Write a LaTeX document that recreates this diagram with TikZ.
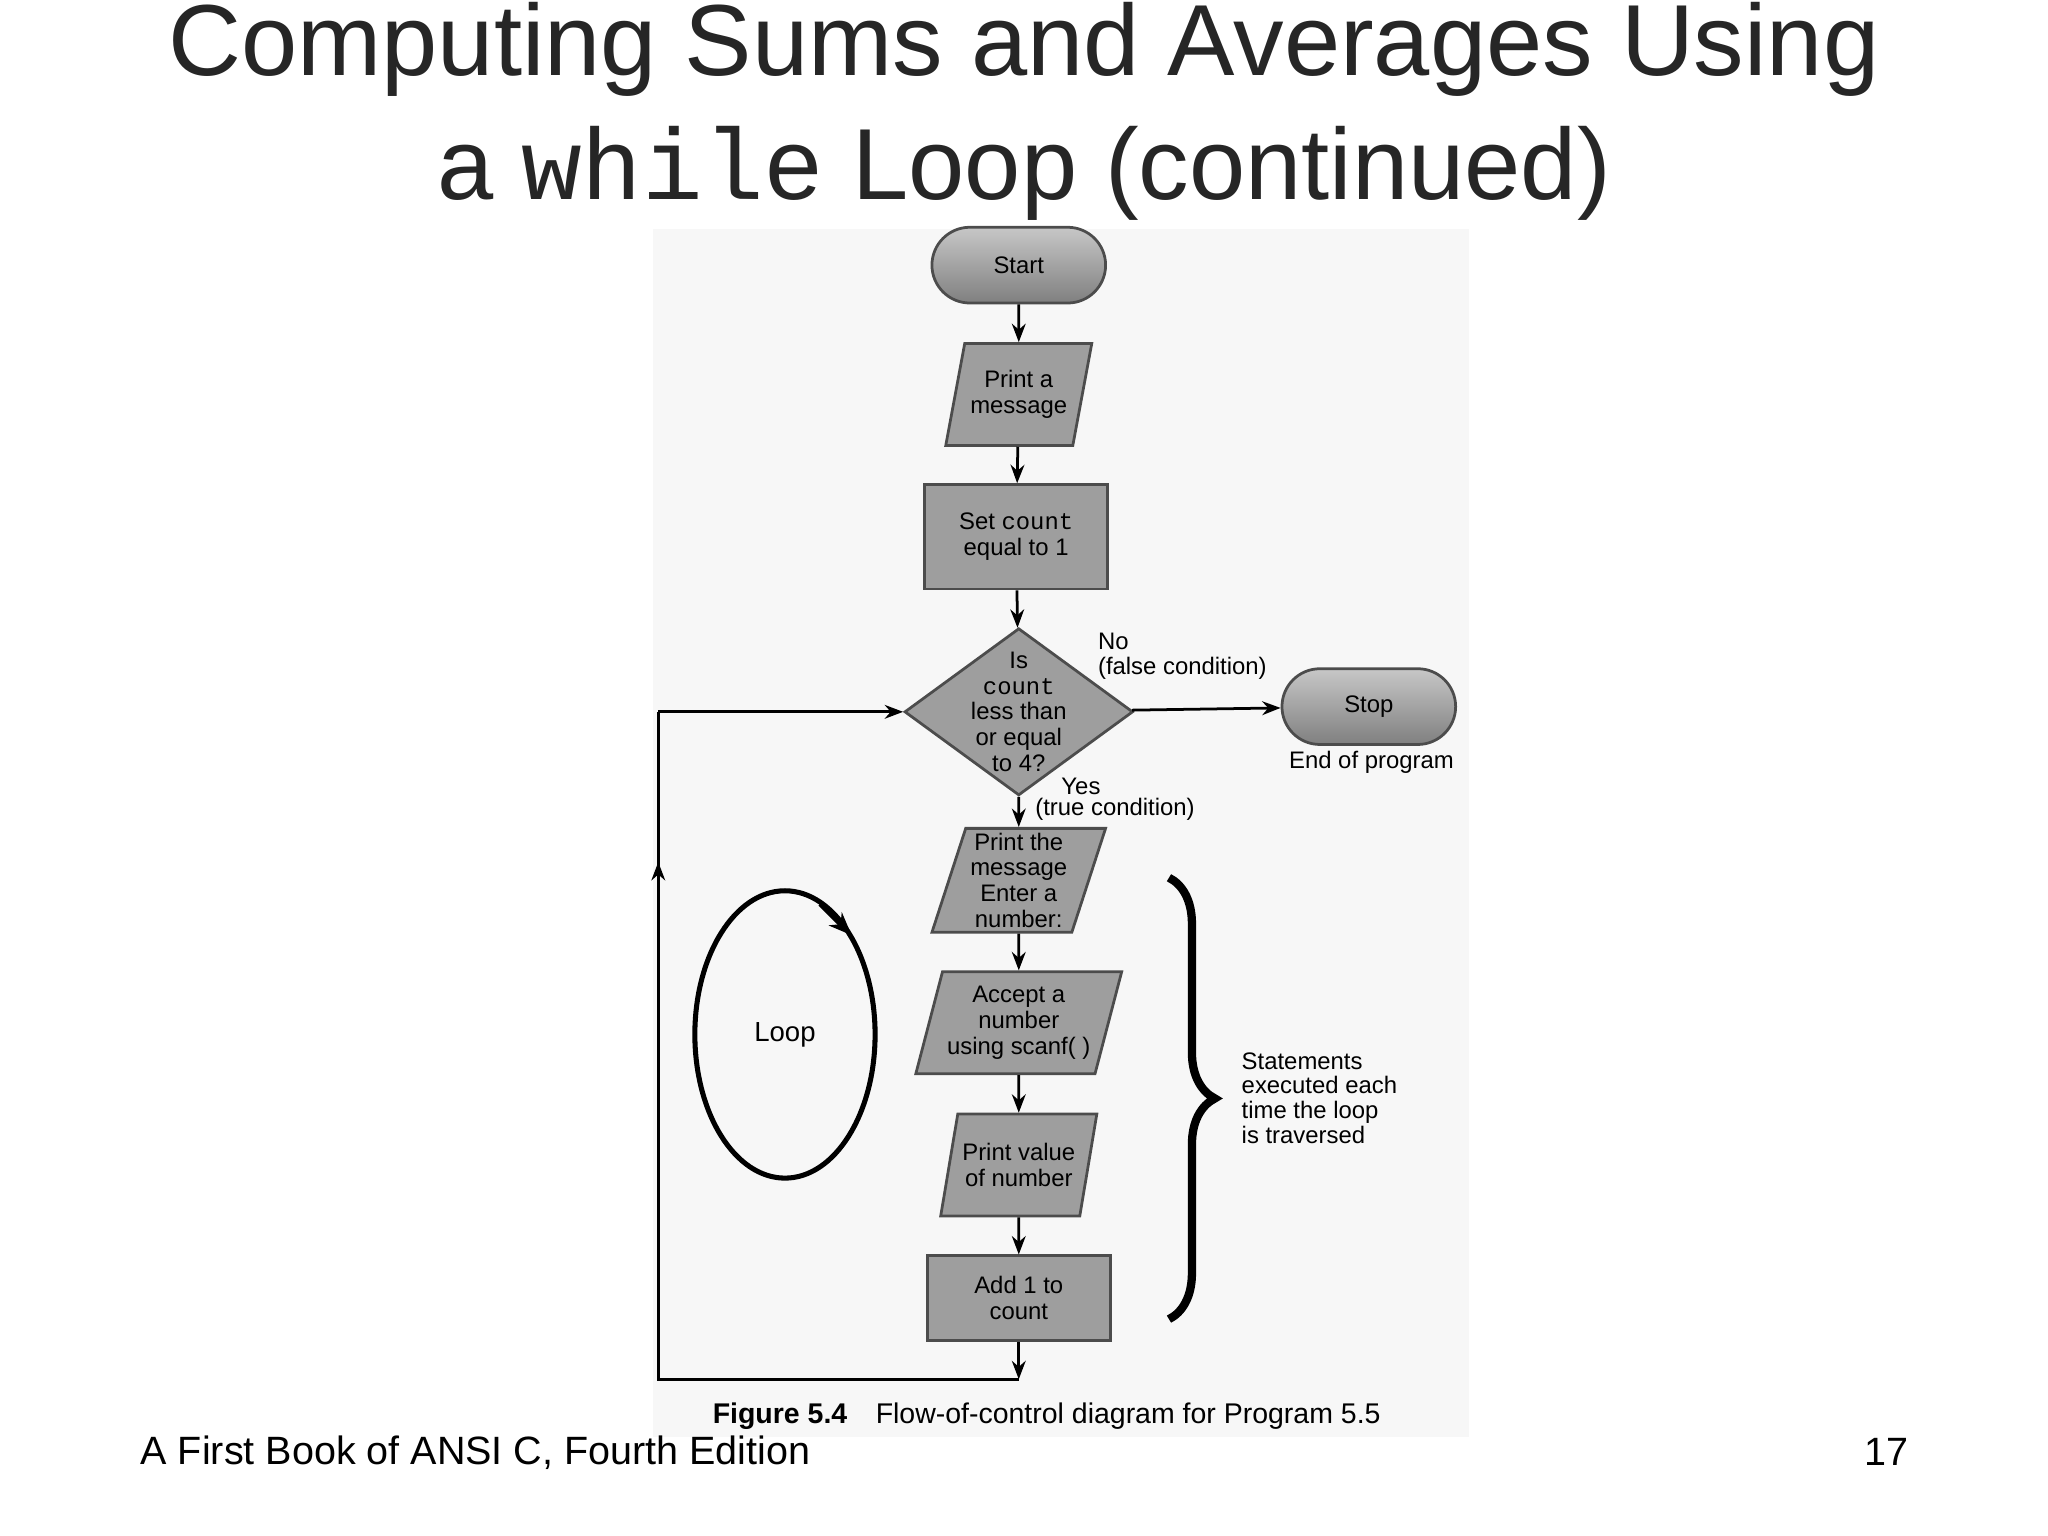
\documentclass[tikz,border=0pt]{standalone}
\usepackage{fontspec}
\setmainfont{Liberation Sans}
\setmonofont{Liberation Mono}
\usetikzlibrary{shapes.geometric,shapes.misc,arrows.meta,decorations.pathreplacing}
\begin{document}
\begin{tikzpicture}[x=0.01cm,y=-0.01cm,
  box/.style={draw=black!70,fill=black!38,line width=0.6pt,align=center,font=\fontsize{5.2}{5.6}\selectfont,inner sep=1pt},
  pill/.style={box,rounded rectangle,minimum width=140*0.01cm,minimum height=58*0.01cm,top color=black!22,bottom color=black!50},
  para/.style={box,trapezium,trapezium left angle=72,trapezium right angle=108,minimum width=112*0.01cm,minimum height=78*0.01cm,trapezium stretches=true},
  rect/.style={box,minimum width=140*0.01cm,minimum height=80*0.01cm},
  dia/.style={box,diamond,minimum width=175*0.01cm,minimum height=128*0.01cm,aspect=1.37,inner sep=0pt},
  ar/.style={-{Stealth[length=4pt,width=3pt]},line width=0.6pt},
  lab/.style={font=\fontsize{5.2}{5.6}\selectfont,anchor=west,inner sep=0pt}]
\useasboundingbox (0,0) rectangle (1568,1176);
\fill[black!3] (500,175) rectangle (1125,1100);
\node[font=\fontsize{22}{24}\selectfont,text=black!85] (t1) at (784,38) {Computing Sums and Averages Using};
\node[font=\fontsize{22}{24}\selectfont,text=black!85] (t2) at (784,133) {a {\ttfamily while} Loop (continued)};
\node[pill] (start) at (780,203) {Start};
\node[para] (p1) at (780,302) {Print a\\message};
\node[rect] (set) at (778,411) {Set {\ttfamily count}\\equal to 1};
\node[box,diamond,minimum width=175*0.01cm,minimum height=128*0.01cm,inner sep=0pt,font=\fontsize{5}{5.3}\selectfont] (d) at (780,545) {};
\node[font=\fontsize{5.2}{5.6}\selectfont,align=center] (dt) at (780,545) {Is\\{\ttfamily count}\\less than\\or equal\\to 4?};
\node[pill] (stop) at (1048,541) {Stop};
\node[para] (p2) at (780,674) {Print the\\message\\{\rmfamily Enter a}\\{\rmfamily number:}};
\node[para] (p3) at (780,783) {Accept a\\number\\using {\rmfamily scanf( )}};
\node[para] (p4) at (780,892) {Print value\\of number};
\node[rect,minimum height=65*0.01cm] (add) at (780,994) {Add 1 to\\{\rmfamily count}};
\coordinate (b1) at (780,1056);
\coordinate (b2) at (504,1056);
\coordinate (b3) at (504,545);
\coordinate (bm) at (504,660);
\draw[ar] (start) -- (p1);
\draw[ar] (p1) -- (set);
\draw[ar] (set) -- (d);
\draw[ar] (d) -- (stop);
\draw[ar] (d) -- (p2);
\draw[ar] (p2) -- (p3);
\draw[ar] (p3) -- (p4);
\draw[ar] (p4) -- (add);
\draw[ar] (add) -- (b1);
\draw[line width=0.6pt] (b1) -- (b2) -- (b3);
\draw[ar] (b3) -- (d.west);
\draw[ar] (b2) -- (bm);
\node[lab] (no) at (840,491) {No};
\node[lab] (nf) at (840,512) {(false condition)};
\node[lab] (yes) at (812,602) {Yes};
\node[lab] (yt) at (792,620) {(true condition)};
\node[lab,anchor=center] (eop) at (1050,584) {End of program};
\draw[line width=1.1pt] (601,792) ellipse (69 and 110);
\node[font=\fontsize{6}{7}\selectfont] (loop) at (601,792) {Loop};
\coordinate (lb) at (652,716);
\draw[-{Stealth[length=5pt,width=4pt]},line width=1.1pt] (628,692) -- (lb);
\draw[decorate,decoration={brace,amplitude=10pt},line width=1.8pt] (895,672) -- (895,1010);
\node[lab,anchor=north west,align=left,font=\fontsize{5.2}{5.4}\selectfont] (st) at (950,805) {Statements\\executed each\\time the loop\\is traversed};
\node[lab,font=\fontsize{6.2}{7}\selectfont] (cap) at (545,1084) {\textbf{Figure 5.4}\quad Flow-of-control diagram for Program 5.5};
\node[lab,font=\fontsize{8.6}{9}\selectfont] (foot) at (107,1112) {A First Book of ANSI C, Fourth Edition};
\node[font=\fontsize{8.6}{9}\selectfont] (pg) at (1444,1112) {17};
\end{tikzpicture}
\end{document}
